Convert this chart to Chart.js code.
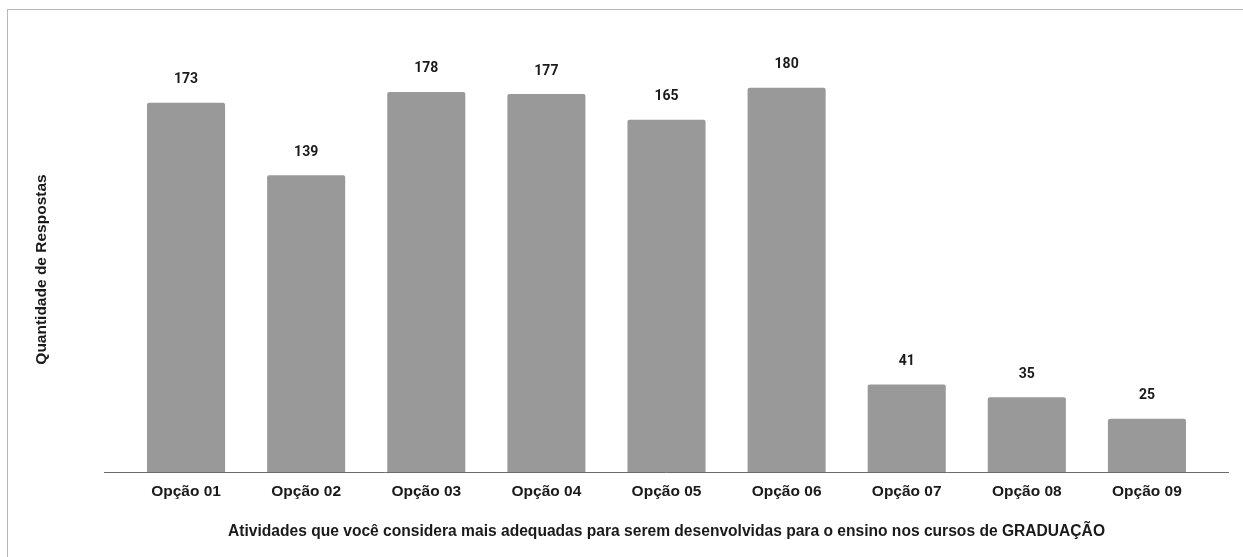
<!DOCTYPE html>
<html>
<head>
<meta charset="utf-8">
<script src="https://cdn.jsdelivr.net/npm/chart.js@4"></script>
<style>
  body { margin: 0; background: #fff; }
  #wrap { position: relative; width: 1243px; height: 557px; }
  #frame { position: absolute; left: 7px; top: 9px; right: 0; bottom: 0;
           border-top: 1px solid #b7b7b7; border-left: 1px solid #b7b7b7; pointer-events: none; }
</style>
</head>
<body>
<div id="wrap">
  <canvas id="myChart" width="1243" height="557"></canvas>
  <div id="frame"></div>
</div>
<script>
// categories + values
let categories = ["Opção 01", "Opção 02", "Opção 03", "Opção 04", "Opção 05", "Opção 06", "Opção 07", "Opção 08", "Opção 09"];
let respostas = [173, 139, 178, 177, 165, 180, 41, 35, 25];

let xTitle = "Atividades que você considera mais adequadas para serem desenvolvidas para o ensino nos cursos de GRADUAÇÃO";
let yTitle = "Quantidade de Respostas";

const fontFam = "'Liberation Sans', Arial, sans-serif";

// value labels above the bars
const barLabels = {
  id: "barLabels",
  afterDatasetsDraw(chart) {
    const ctx = chart.ctx;
    const meta = chart.getDatasetMeta(0);
    ctx.save();
    ctx.font = "bold 14px Roboto, sans-serif";
    ctx.fillStyle = "#1a1a1a";
    ctx.textAlign = "center";
    ctx.textBaseline = "middle";
    meta.data.forEach((bar, i) => {
      ctx.fillText(respostas[i], bar.x, bar.y - 23);
    });
    ctx.restore();
  }
};

// baseline a bit wider than the plot area + y title (sits a little lower than chart.js puts it)
const extras = {
  id: "extras",
  afterDatasetsDraw(chart) {
    const ctx = chart.ctx;
    const a = chart.chartArea;
    const y = Math.round(chart.scales.y.getPixelForValue(0)) + 0.5;
    ctx.save();
    ctx.strokeStyle = "#6b6b6b";
    ctx.lineWidth = 1;
    ctx.beginPath();
    ctx.moveTo(a.left - 22, y);
    ctx.lineTo(a.right + 22, y);
    ctx.stroke();

    ctx.translate(42, (a.top + a.bottom) / 2 + 11);
    ctx.rotate(-Math.PI / 2);
    ctx.font = "bold 15.5px " + fontFam;
    ctx.fillStyle = "#1a1a1a";
    ctx.textAlign = "center";
    ctx.textBaseline = "middle";
    ctx.fillText(yTitle, 0, 0);
    ctx.restore();
  }
};

new Chart("myChart", {
  type: "bar",
  data: {
    labels: categories,
    datasets: [{
      data: respostas,
      backgroundColor: "#999999",
      borderRadius: 2,
      borderSkipped: "bottom",
      barPercentage: 0.65,
      categoryPercentage: 1.0
    }]
  },
  options: {
    responsive: false,
    animation: false,
    layout: { padding: { top: 45, right: 36, left: 0, bottom: 0 } },
    plugins: {
      legend: { display: false },
      tooltip: { enabled: false }
    },
    scales: {
      x: {
        grid: { display: false, drawTicks: false },
        border: { display: false },
        ticks: {
          color: "#1a1a1a",
          padding: 10,
          font: { family: fontFam, size: 15.5, weight: "bold" }
        },
        title: {
          display: true,
          text: xTitle,
          color: "#1a1a1a",
          padding: { top: 0, bottom: 16 },
          font: { family: fontFam, size: 15.6, weight: "bold" }
        },
        afterFit(s) { s.height = 85; }
      },
      y: {
        min: 0,
        max: 200,
        grid: { display: false, drawTicks: false },
        border: { display: false },
        ticks: { display: false },
        title: { display: false },
        afterFit(s) { s.width = 126; }
      }
    }
  },
  plugins: [barLabels, extras]
});
</script>
</body>
</html>
